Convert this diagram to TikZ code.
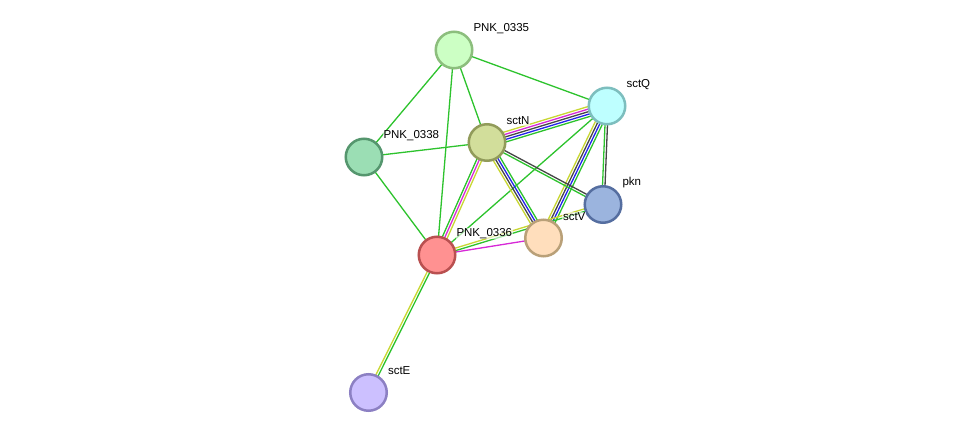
\documentclass[tikz,border=0pt]{standalone}
\usepackage{fontspec}
\setmainfont{Liberation Sans}
\usetikzlibrary{calc}
\pgfdeclarelayer{bg}
\pgfsetlayers{bg,main}
\definecolor{eGreen}{RGB}{45,195,45}
\definecolor{eYellow}{RGB}{200,215,50}
\definecolor{eMag}{RGB}{215,40,215}
\definecolor{eDark}{RGB}{70,70,70}
\definecolor{eBlue}{RGB}{35,35,235}
\definecolor{fA}{RGB}{204,255,196}\definecolor{bA}{RGB}{140,190,125}
\definecolor{fQ}{RGB}{190,255,255}\definecolor{bQ}{RGB}{125,190,190}
\definecolor{fN}{RGB}{210,222,155}\definecolor{bN}{RGB}{145,155,90}
\definecolor{fB}{RGB}{155,222,180}\definecolor{bB}{RGB}{85,150,110}
\definecolor{fP}{RGB}{155,180,222}\definecolor{bP}{RGB}{85,110,160}
\definecolor{fV}{RGB}{255,222,188}\definecolor{bV}{RGB}{185,160,120}
\definecolor{fC}{RGB}{255,145,145}\definecolor{bC}{RGB}{185,80,80}
\definecolor{fE}{RGB}{204,192,255}\definecolor{bE}{RGB}{140,128,195}
\tikzset{
  prot/.style={circle, minimum size=36.5pt, inner sep=0pt, line width=2.5pt},
  lbl/.style={anchor=west, font=\fontsize{11.5}{13}\selectfont, inner sep=0.8pt,
    fill=white, fill opacity=0.6, text opacity=1},
  edge/.style={line width=1.3pt}
}
\newcommand{\elink}[4]{\draw[edge,#4] ($(#1)!#3!90:(#2)$) -- ($(#2)!#3!-90:(#1)$);}
\begin{document}
\begin{tikzpicture}[x=1pt,y=-1pt]
\useasboundingbox (0,0) rectangle (975,438);
\node[prot, fill=fA, draw=bA] (n335) at (454,50) {};
\node[prot, fill=fQ, draw=bQ] (sQ) at (607,106) {};
\node[prot, fill=fN, draw=bN] (sN) at (487,142.5) {};
\node[prot, fill=fB, draw=bB] (n338) at (364,157) {};
\node[prot, fill=fP, draw=bP] (pkn) at (603,204.5) {};
\node[prot, fill=fV, draw=bV] (sV) at (543.5,238) {};
\node[prot, fill=fC, draw=bC] (n336) at (437,255) {};
\node[prot, fill=fE, draw=bE] (sE) at (368.5,392.5) {};
\begin{pgfonlayer}{bg}
\fill[white] (0,0) rectangle (975,438);
% single green
\elink{n335}{n338}{0pt}{eGreen}
\elink{n335}{sN}{0pt}{eGreen}
\elink{n335}{n336}{0pt}{eGreen}
\elink{n335}{sQ}{0pt}{eGreen}
\elink{n338}{sN}{0pt}{eGreen}
\elink{n338}{n336}{0pt}{eGreen}
\elink{sQ}{n336}{0pt}{eGreen}
% single magenta
\elink{n336}{sV}{0pt}{eMag}
% sctN - sctQ
\elink{sN}{sQ}{5pt}{eYellow}
\elink{sN}{sQ}{2.5pt}{eMag}
\elink{sN}{sQ}{0pt}{eDark}
\elink{sN}{sQ}{-2.5pt}{eBlue}
\elink{sN}{sQ}{-5pt}{eGreen}
% sctN - sctV
\elink{sN}{sV}{3.75pt}{eGreen}
\elink{sN}{sV}{1.25pt}{eBlue}
\elink{sN}{sV}{-1.25pt}{eDark}
\elink{sN}{sV}{-3.75pt}{eYellow}
% sctN - PNK_0336
\elink{sN}{n336}{2.5pt}{eYellow}
\elink{sN}{n336}{0pt}{eMag}
\elink{sN}{n336}{-2.5pt}{eGreen}
% sctQ - sctV
\elink{sQ}{sV}{-3.75pt}{eYellow}
\elink{sQ}{sV}{-1.25pt}{eDark}
\elink{sQ}{sV}{1.25pt}{eBlue}
\elink{sQ}{sV}{3.75pt}{eGreen}
% sctQ - pkn
\elink{sQ}{pkn}{-1.25pt}{eGreen}
\elink{sQ}{pkn}{1.25pt}{eDark}
% sctN - pkn
\elink{sN}{pkn}{1.25pt}{eDark}
\elink{sN}{pkn}{-1.25pt}{eGreen}
% PNK_0336 - pkn
\elink{n336}{pkn}{1.25pt}{eYellow}
\elink{n336}{pkn}{-1.25pt}{eGreen}
% PNK_0336 - sctE
\elink{n336}{sE}{-1.25pt}{eYellow}
\elink{n336}{sE}{1.25pt}{eGreen}
\end{pgfonlayer}
\node[lbl] (l335) at ($(n335)+(18.5,-21.5)$) {PNK\_0335};
\node[lbl] (lQ) at ($(sQ)+(18.5,-21.5)$) {sctQ};
\node[lbl] (lN) at ($(sN)+(18.5,-21.5)$) {sctN};
\node[lbl] (l338) at ($(n338)+(18.5,-21.5)$) {PNK\_0338};
\node[lbl] (lP) at ($(pkn)+(18.5,-21.5)$) {pkn};
\node[lbl] (lV) at ($(sV)+(18.5,-21.5)$) {sctV};
\node[lbl] (l336) at ($(n336)+(18.5,-21.5)$) {PNK\_0336};
\node[lbl] (lE) at ($(sE)+(18.5,-21.5)$) {sctE};
\end{tikzpicture}
\end{document}
